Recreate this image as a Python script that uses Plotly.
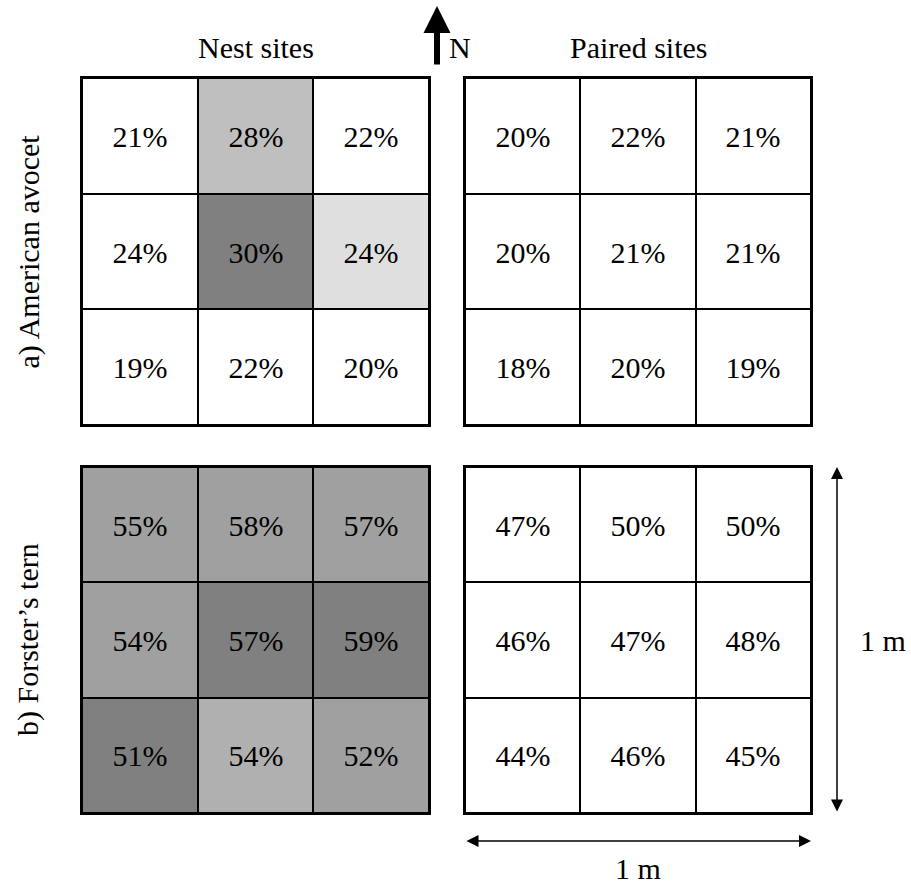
import plotly.graph_objects as go

# Percent values per 3x3 cell (rows listed north to south, columns west to east)
avocet_nest = [[21, 28, 22], [24, 30, 24], [19, 22, 20]]
avocet_paired = [[20, 22, 21], [20, 21, 21], [18, 20, 19]]
tern_nest = [[55, 58, 57], [54, 57, 59], [51, 54, 52]]
tern_paired = [[47, 50, 50], [46, 47, 48], [44, 46, 45]]

# Shading class per cell (0 = unshaded, higher = darker)
avocet_nest_class = [[0, 2, 0], [0, 5, 1], [0, 0, 0]]
avocet_paired_class = [[0, 0, 0], [0, 0, 0], [0, 0, 0]]
tern_nest_class = [[4, 4, 4], [4, 5, 5], [5, 3, 4]]
tern_paired_class = [[0, 0, 0], [0, 0, 0], [0, 0, 0]]

column_titles = ["Nest sites", "Paired sites"]
row_titles = ["a) American avocet", "b) Forster\u2019s tern"]
scale_label = "1 m"

shades = ["#ffffff", "#dfdfdf", "#bfbfbf", "#b0b0b0", "#a0a0a0", "#808080"]
colorscale = [[i / (len(shades) - 1), c] for i, c in enumerate(shades)]

FONT = "Liberation Serif, Times New Roman, DejaVu Serif, serif"
TEXT_FONT = dict(family=FONT, size=30, color="#000000")
W, H = 911, 886

# panel pixel boxes -> paper domains
x_domains = [(82 / W, 429 / W), (465 / W, 811 / W)]
y_domains = [(1 - 425 / H, 1 - 78 / H), (1 - 813 / H, 1 - 467 / H)]

panels = [
    (avocet_nest, avocet_nest_class, 0, 0),
    (avocet_paired, avocet_paired_class, 0, 1),
    (tern_nest, tern_nest_class, 1, 0),
    (tern_paired, tern_paired_class, 1, 1),
]

fig = go.Figure()
layout_axes = {}
for k, (vals, cls, r, c) in enumerate(panels, start=1):
    suffix = "" if k == 1 else str(k)
    fig.add_trace(go.Heatmap(
        z=cls,
        x=[0, 1, 2],
        y=[0, 1, 2],
        text=[[f"{v}%" for v in row] for row in vals],
        texttemplate="%{text}",
        textfont=TEXT_FONT,
        colorscale=colorscale,
        zmin=0, zmax=len(shades) - 1,
        showscale=False,
        xgap=2, ygap=2,
        hoverinfo="skip",
        xaxis="x" + suffix, yaxis="y" + suffix,
    ))
    axis_common = dict(showgrid=False, zeroline=False, showticklabels=False,
                       ticks="", showline=True, mirror=True,
                       linecolor="#000000", linewidth=2, fixedrange=True)
    layout_axes["xaxis" + suffix] = dict(axis_common, domain=x_domains[c],
                                         range=[-0.5, 2.5], anchor="y" + suffix)
    layout_axes["yaxis" + suffix] = dict(axis_common, domain=y_domains[r],
                                         range=[2.5, -0.5], anchor="x" + suffix)

annotations = []
# column headings
for c, title in enumerate(column_titles):
    annotations.append(dict(text=title, xref="x%s domain" % ("" if c == 0 else "2"),
                            yref="paper", x=0.5, y=1 - 48 / H, showarrow=False,
                            font=TEXT_FONT, xanchor="center", yanchor="middle"))
# row headings
for r, title in enumerate(row_titles):
    annotations.append(dict(text=title, xref="paper",
                            yref="y%s domain" % ("" if r == 0 else "3"),
                            x=28 / W, y=0.5, showarrow=False, textangle=-90,
                            font=TEXT_FONT, xanchor="center", yanchor="middle"))

# north arrow
annotations.append(dict(x=437 / W, y=1 - 6 / H, xref="paper", yref="paper",
                        ax=0, ay=60, axref="pixel", ayref="pixel", text="",
                        showarrow=True, arrowhead=2, arrowsize=0.9,
                        arrowwidth=6, arrowcolor="#000000"))
annotations.append(dict(text="N", xref="paper", yref="paper", x=460 / W,
                        y=1 - 48 / H, showarrow=False,
                        font=TEXT_FONT, xanchor="center", yanchor="middle"))

# scale bars beside the lower right panel
annotations.append(dict(x=(837 - 465) / 346, y=1, xref="x4 domain", yref="y4 domain",
                        ax=0, ay=346, text="", showarrow=True, arrowhead=2,
                        arrowside="end+start", arrowsize=1.6, arrowwidth=1.5,
                        arrowcolor="#000000"))
annotations.append(dict(x=1, y=(813 - 841) / 346, xref="x4 domain", yref="y4 domain",
                        ax=-346, ay=0, text="", showarrow=True, arrowhead=2,
                        arrowside="end+start", arrowsize=1.6, arrowwidth=1.5,
                        arrowcolor="#000000"))
annotations.append(dict(text=scale_label, xref="x4 domain", yref="paper",
                        x=0.5, y=1 - 868 / H, showarrow=False,
                        font=TEXT_FONT, xanchor="center", yanchor="middle"))
annotations.append(dict(text=scale_label, xref="paper", yref="y4 domain",
                        x=883 / W, y=0.5, showarrow=False,
                        font=TEXT_FONT, xanchor="center", yanchor="middle"))

fig.update_layout(
    width=W, height=H,
    margin=dict(l=0, r=0, t=0, b=0),
    paper_bgcolor="#ffffff",
    plot_bgcolor="#000000",
    showlegend=False,
    annotations=annotations,
    **layout_axes,
)

fig.write_html("out.html", config={"displayModeBar": False})
